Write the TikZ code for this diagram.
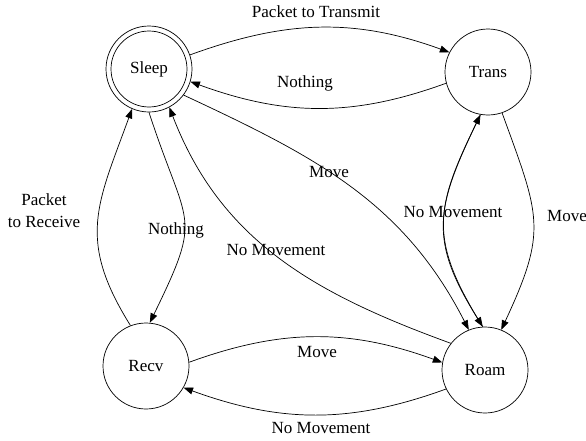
\documentclass[tikz,border=0pt]{standalone}
\usepackage{fontspec}
\setmainfont{Liberation Serif}
\usetikzlibrary{arrows.meta}
\tikzset{%
	state/.style    = {draw, circle, minimum size=1.72cm, inner sep=0pt, font=\fontsize{9.7}{12}\selectfont},
	arrow/.style    = {-{Triangle[length=1.9mm,width=1.4mm]}},
	edgelabel/.style= {font=\fontsize{9.7}{12.5}\selectfont, align=center, inner sep=1pt},
}

\begin{document}
\begin{tikzpicture}
	\useasboundingbox (0,0) rectangle (11.72,-8.8);
	% states
	\node[state] (Sleep) at (2.98,-1.38) {Sleep};
	\draw (Sleep.center) circle (0.76);
	\node[state] (Trans) at (9.76,-1.44) {Trans};
	\node[state] (Recv) at (2.92,-7.32) {Recv};
	\node[state] (Roam) at (9.70,-7.40) {Roam};

	% transitions
	\draw[arrow] (Sleep.19) to[out=20,in=160] (Trans.153);
	\draw[arrow] (Trans.-165) to[out=-160,in=-20] (Sleep.-17);
	\draw[arrow] (Sleep.-37) to[out=-25,in=117] (Roam.112);
	\draw[arrow] (Roam.142) to[out=160,in=-69] (Sleep.-62);
	\draw[arrow] (Sleep.-90) to[out=-72,in=64,looseness=1.5] (Recv.85);
	\draw[arrow] (Recv.111) to[out=122,in=-110,looseness=1.2] (Sleep.-113);
	\draw[arrow] (Trans.-71) to[out=-70,in=65,looseness=1.3] (Roam.68);
	\draw[arrow] (Trans.-100) to[out=-116,in=122,looseness=1.25] (Roam.93);
	\draw[arrow] (Roam.93) to[out=122,in=-116,looseness=1.25] (Trans.-100);
	\draw[arrow] (Recv.5) to[out=20,in=160] (Roam.170);
	\draw[arrow] (Roam.-154) to[out=-160,in=-20] (Recv.-30);

	% labels
	\node[edgelabel] (lTransmit) at (6.32,-0.24) {Packet to Transmit};
	\node[edgelabel] (lNothingT) at (6.10,-1.66) {Nothing};
	\node[edgelabel] (lMoveS) at (6.58,-3.44) {Move};
	\node[edgelabel] (lNoMoveS) at (5.52,-5.00) {No Movement};
	\node[edgelabel] (lNothingR) at (3.52,-4.60) {Nothing};
	\node[edgelabel] (lReceive) at (0.88,-4.21) {Packet\\to Receive};
	\node[edgelabel] (lNoMoveT) at (9.06,-4.24) {No Movement};
	\node[edgelabel] (lMoveT) at (11.34,-4.32) {Move};
	\node[edgelabel] (lMoveR) at (6.34,-7.04) {Move};
	\node[edgelabel] (lNoMoveR) at (6.42,-8.56) {No Movement};
\end{tikzpicture}
\end{document}
